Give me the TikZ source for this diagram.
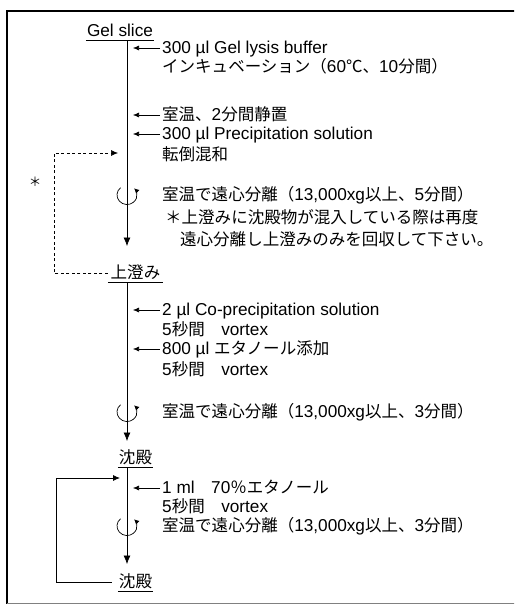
\documentclass[tikz,border=0pt]{standalone}
\usepackage{fontspec}
\setmainfont{Liberation Sans}
\newfontfamily\jpf{Noto Sans CJK JP}[Scale=0.96]
\usetikzlibrary{arrows.meta}
\newcommand{\J}[1]{{\jpf #1}}
\begin{document}
\begin{tikzpicture}[x=1pt,y=1pt,
  every node/.style={font=\fontsize{17.2}{19}\selectfont},
  lbl/.style={anchor=west, inner sep=0pt, text height=12.5pt, text depth=2.5pt},
  head/.style={anchor=center, inner xsep=0pt, inner ysep=1.5pt, text height=12.5pt, text depth=2.5pt},
  uline/.style={line width=0.8pt},
  addarr/.style={-{Latex[length=6pt,width=5pt]}, line width=0.6pt},
  mainarr/.style={-{Latex[length=8.5pt,width=7pt]}, line width=0.7pt},
  rotarr/.style={-{Latex[length=5pt,width=5pt]}, line width=0.7pt},
  dasharr/.style={dash pattern=on 3pt off 2.5pt, -{Latex[length=7pt,width=6pt]}, line width=0.6pt},
  looparr/.style={-{Latex[length=7pt,width=6pt]}, line width=0.8pt},
]
\useasboundingbox (0,0) rectangle (514,-605);
\begin{scope}
\clip (0,0) rectangle (514,-605);
\draw[line width=2pt] (530,-11) -- (7,-11) -- (7,-604);
\draw[line width=1pt, gray] (7,-603) -- (530,-603);
\end{scope}
\coordinate (ax) at (127,0);

% group 1
\node[head, minimum width=68pt] (gel) at (120,-31) {Gel slice};
\draw[uline] (gel.south west) -- (gel.south east);
\node[lbl] (a1) at (162,-48) {300 µl Gel lysis buffer};
\node[lbl] (a1b) at (162,-67) {\J{インキュベーション（}60\J{℃、}10\J{分間）}};
\node[lbl] (a2) at (162,-115) {\J{室温、}2\J{分間静置}};
\node[lbl] (a3) at (162,-134) {300 µl Precipitation solution};
\node[lbl] (a3b) at (162,-155) {\J{転倒混和}};
\node[lbl] (c1) at (162,-195) {\J{室温で遠心分離（}13,000xg\J{以上、}5\J{分間）}};
\node[lbl] (n1) at (165,-218) {\J{＊上澄みに沈殿物が混入している際は再度}};
\node[lbl] (n2) at (180,-240) {\J{遠心分離し上澄みのみを回収して下さい。}};
\node[font=\fontsize{13}{15}\selectfont] (star) at (35,-182) {\J{＊}};
\coordinate (t1) at (127,-246);
\draw[mainarr] (gel.south -| ax) -- (t1);
\foreach \n in {a1,a2,a3} \draw[addarr] ([xshift=-2pt]\n.west) -- ++(-27,0);
\path (c1.west -| ax) coordinate (r1);
\draw[rotarr] (r1) ++(130:10 and 9.5) arc[start angle=130, end angle=405, x radius=10, y radius=9.5];

% supernatant
\node[head, minimum width=55pt] (sup) at (135.5,-273) {\J{上澄み}};
\draw[uline] (sup.south west) -- (sup.south east);
\coordinate (dt) at (118,-153);
\draw[dasharr] (sup.west) -- ++(-54,0) |- (dt);

% group 2
\node[lbl] (b1) at (162,-310) {2 µl Co-precipitation solution};
\node[lbl] (b1b) at (162,-330) {5\J{秒間　}vortex};
\node[lbl] (b2) at (162,-349) {800 µl \J{エタノール添加}};
\node[lbl] (b2b) at (162,-370) {5\J{秒間　}vortex};
\node[lbl] (c2) at (162,-412) {\J{室温で遠心分離（}13,000xg\J{以上、}3\J{分間）}};
\coordinate (t2) at (127,-441);
\draw[mainarr] (sup.south -| ax) -- (t2);
\foreach \n in {b1,b2} \draw[addarr] ([xshift=-2pt]\n.west) -- ++(-27,0);
\path (c2.west -| ax) coordinate (r2);
\draw[rotarr] (r2) ++(130:10 and 9.5) arc[start angle=130, end angle=405, x radius=10, y radius=9.5];

\node[head, minimum width=35pt] (ppt1) at (135.5,-458) {\J{沈殿}};
\draw[uline] (ppt1.south west) -- (ppt1.south east);

% group 3
\node[lbl] (d1) at (162,-488) {1 ml\J{　}70\J{％エタノール}};
\node[lbl] (d1b) at (162,-507) {5\J{秒間　}vortex};
\node[lbl] (c3) at (162,-526) {\J{室温で遠心分離（}13,000xg\J{以上、}3\J{分間）}};
\coordinate (t3) at (127,-564);
\draw[mainarr] (ppt1.south -| ax) -- (t3);
\draw[addarr] ([xshift=-2pt]d1.west) -- ++(-27,0);
\path (c3.west -| ax) coordinate (r3);
\draw[rotarr] (r3) ++(130:10 and 9.5) arc[start angle=130, end angle=405, x radius=10, y radius=9.5];

\node[head, minimum width=35pt] (ppt2) at (135.5,-582) {\J{沈殿}};
\draw[uline] (ppt2.south west) -- (ppt2.south east);
\coordinate (lt) at (120,-478);
\draw[looparr] ([xshift=-6pt]ppt2.west) -- ++(-55,0) |- (lt);
\end{tikzpicture}
\end{document}
